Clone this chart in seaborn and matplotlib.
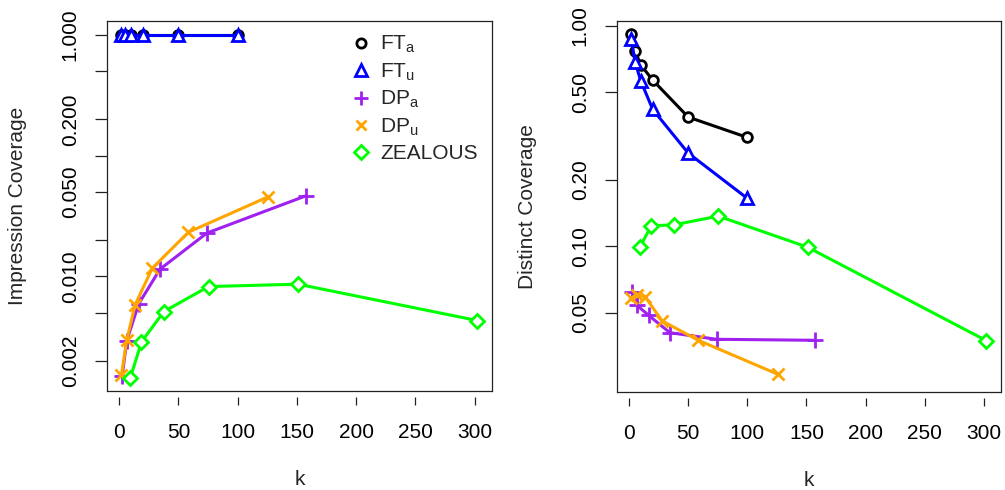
import numpy as np
import pandas as pd
import matplotlib
matplotlib.use('Agg')
import matplotlib.pyplot as plt
from matplotlib.lines import Line2D
import seaborn as sns

sns.set_style('white')
plt.rcParams['font.family'] = ['Liberation Sans', 'DejaVu Sans']
plt.rcParams['mathtext.fontset'] = 'custom'
plt.rcParams['mathtext.rm'] = 'Liberation Sans'
plt.rcParams['mathtext.it'] = 'Liberation Sans'

# k values for each method
k_ft = [2, 5, 10, 20, 50, 100]
k_dp_a = [2.5, 6.5, 16.5, 34.5, 74, 157.5]
k_dp_u = [2, 6.5, 13.5, 28, 58.5, 126]
k_zeal = [9.4, 18.9, 37.75, 75.5, 151, 302]

# impression coverage (left panel)
imp_ft_a = [1.0, 1.0, 1.0, 1.0, 1.0, 1.0]
imp_ft_u = [1.0, 1.0, 1.0, 1.0, 1.0, 1.0]
imp_dp_a = [0.00148, 0.00293, 0.0059, 0.01145, 0.0228, 0.0464]
imp_dp_u = [0.00152, 0.00297, 0.0058, 0.01167, 0.0232, 0.0457]
imp_zeal = [0.00143, 0.00286, 0.0051, 0.00822, 0.0086, 0.0043]

# distinct coverage (right panel)
dis_ft_a = [0.92, 0.77, 0.665, 0.568, 0.386, 0.312]
dis_ft_u = [0.873, 0.688, 0.562, 0.418, 0.265, 0.165]
dis_dp_a = [0.062, 0.054, 0.0486, 0.0405, 0.0378, 0.0374]
dis_dp_u = [0.058, 0.060, 0.059, 0.0458, 0.0374, 0.0262]
dis_zeal = [0.0997, 0.124, 0.125, 0.137, 0.099, 0.0373]

labels = [r'FT$_\mathrm{a}$', r'FT$_\mathrm{u}$', r'DP$_\mathrm{a}$', r'DP$_\mathrm{u}$', 'ZEALOUS']
colors = ['black', '#0000FF', '#A020F0', '#FFA500', '#00FF00']
markers = ['o', '^', '+', 'x', 'D']
msizes = [7, 9, 11, 8, 7.5]

left_ticks = [1, 0.5, 0.2, 0.1, 0.05, 0.02, 0.01, 0.005, 0.002]
left_ticklabels = ['1.000', '', '0.200', '', '0.050', '', '0.010', '', '0.002']
right_ticks = [1, 0.5, 0.2, 0.1, 0.05]
right_ticklabels = ['1.00', '0.50', '0.20', '0.10', '0.05']

FS = 15

fig = plt.figure(figsize=(10.05, 4.9), dpi=100)
W, H = 1005, 490


def add_ax(x0, x1, y0, y1):
    return fig.add_axes([x0 / W, 1 - y1 / H, (x1 - x0) / W, (y1 - y0) / H])


def draw_panel(ax, series, ylim, ticks, ticklabels, ylabel):
    for (k, v), lab, c, m, ms in zip(series, labels, colors, markers, msizes):
        df = pd.DataFrame({'k': k, 'v': v})
        filled = m not in ('+', 'x')
        sns.lineplot(data=df, x='k', y='v', ax=ax, color=c, lw=2.2,
                     estimator=None, sort=False, marker=m, markersize=ms,
                     markeredgewidth=2.0, markeredgecolor=c,
                     markerfacecolor='white' if filled else c, legend=False)
    ax.set_yscale('log')
    ax.set_xlim(-10.2, 314.6)
    ax.set_ylim(*ylim)
    ax.set_xticks([0, 50, 100, 150, 200, 250, 300])
    ax.set_yticks(ticks)
    ax.set_yticklabels(ticklabels)
    ax.minorticks_off()
    ax.tick_params(axis='y', direction='out', length=8.6, width=0.9, pad=11,
                   labelsize=FS, left=True, colors='#222222', labelcolor='black')
    for t in ax.get_yticklabels():
        t.set_rotation(90)
        t.set_va('center')
    ax.tick_params(axis='x', direction='out', length=5.8, width=0.9, pad=13,
                   labelsize=FS, bottom=True, colors='#222222', labelcolor='black')
    # R style: detached x ticks, full box
    ax.spines['bottom'].set_position(('outward', 4.5))
    ax.spines['bottom'].set_edgecolor('none')
    for s in ['top', 'left', 'right']:
        ax.spines[s].set_visible(True)
        ax.spines[s].set_color('#222222')
        ax.spines[s].set_linewidth(0.9)
    ax.plot([0, 1], [0, 0], transform=ax.transAxes, color='#222222', lw=0.9,
            clip_on=False)
    ax.set_xlabel('k', fontsize=FS)
    ax.xaxis.set_label_coords(0.5, -0.238)
    ax.xaxis.label.set_va('center')
    ax.set_ylabel(ylabel, fontsize=FS)
    ax.yaxis.label.set_va('center')
    ax.grid(False)


ax1 = add_ax(107, 492, 21, 391)
draw_panel(ax1,
           [(k_ft, imp_ft_a), (k_ft, imp_ft_u), (k_dp_a, imp_dp_a),
            (k_dp_u, imp_dp_u), (k_zeal, imp_zeal)],
           (0.00112, 1.306), left_ticks, left_ticklabels, 'Impression Coverage')
ax1.yaxis.set_label_coords(-0.232, 0.5)

ax2 = add_ax(617, 1001, 21, 392)
draw_panel(ax2,
           [(k_ft, dis_ft_a), (k_ft, dis_ft_u), (k_dp_a, dis_dp_a),
            (k_dp_u, dis_dp_u), (k_zeal, dis_zeal)],
           (0.02178, 1.054), right_ticks, right_ticklabels, 'Distinct Coverage')
ax2.yaxis.set_label_coords(-0.234, 0.5)

handles = [Line2D([], [], linestyle='none', marker=m, markersize=ms * 0.95,
                  markeredgewidth=2.0, color=c, markerfacecolor='none' if m not in ('+', 'x') else c)
           for m, c, ms in zip(markers, colors, msizes)]
ax1.legend(handles, labels, loc='upper left', bbox_to_anchor=(0.632, 0.965),
           frameon=False, fontsize=FS, handlelength=1.0, handletextpad=0.42,
           labelspacing=0.30, borderpad=0, borderaxespad=0)

fig.savefig('out.png', dpi=100)
